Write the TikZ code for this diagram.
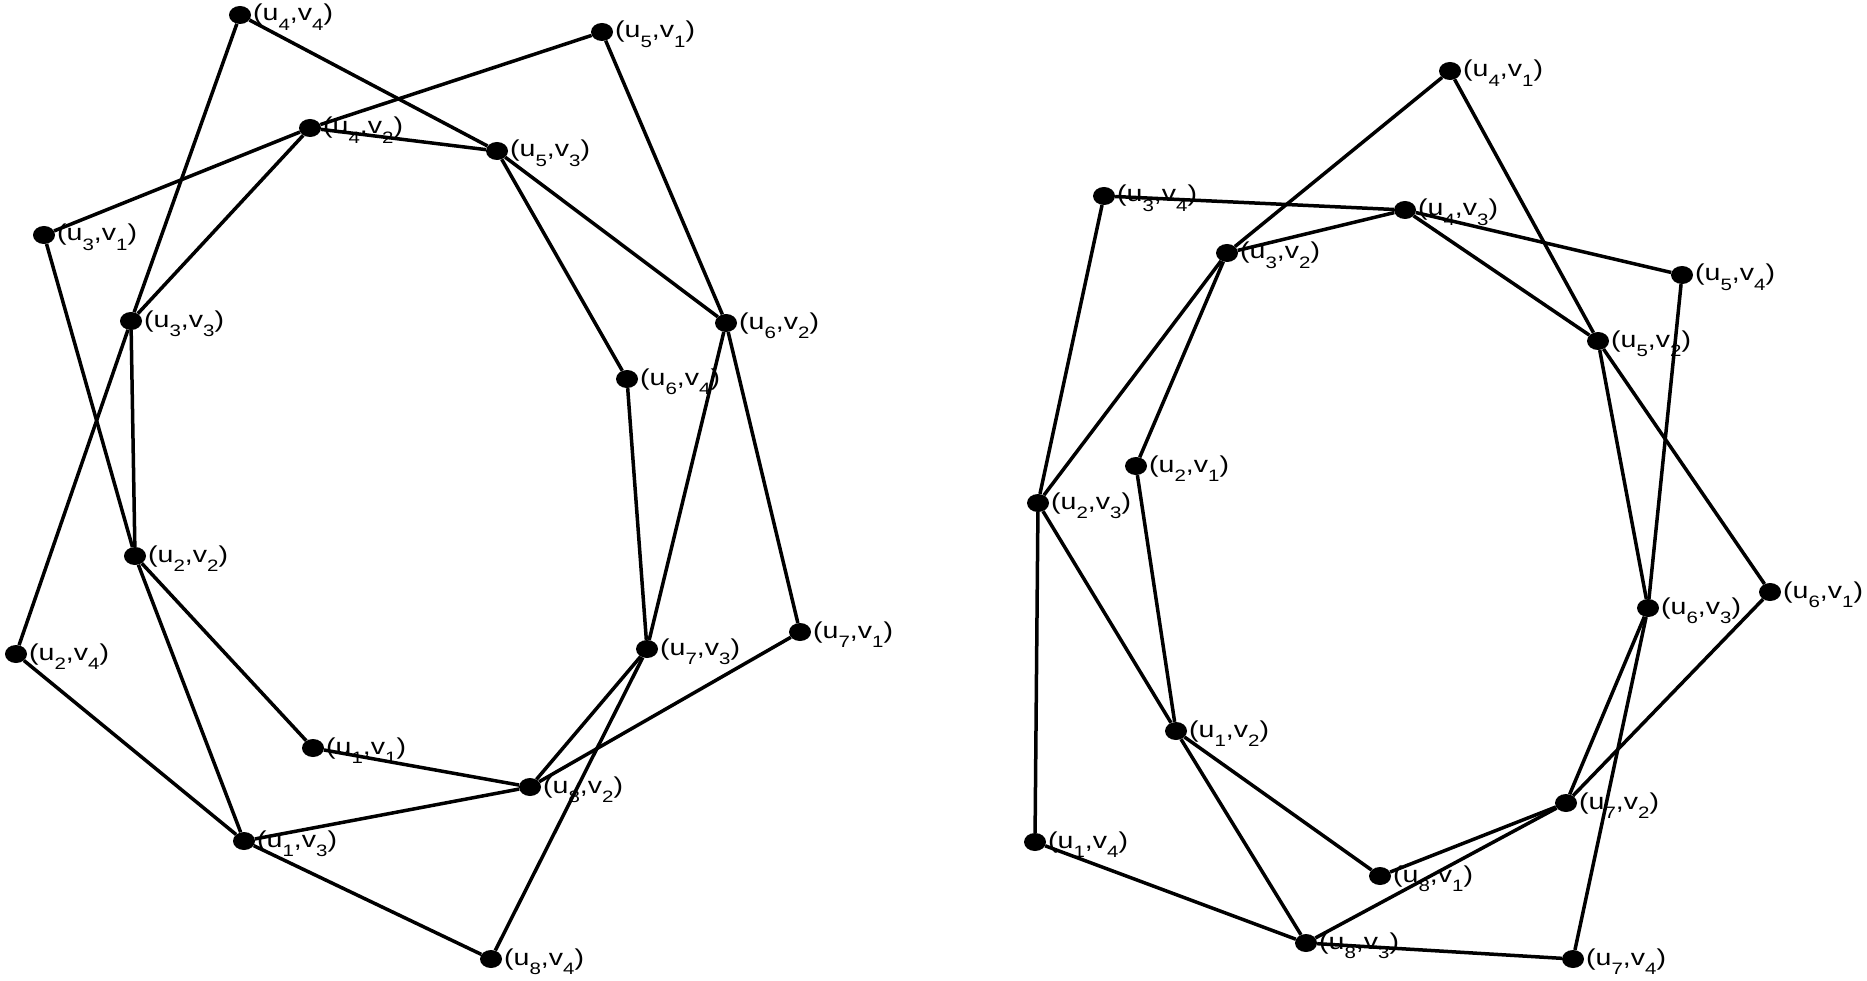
\documentclass[tikz,border=0pt]{standalone}
\usepackage{fontspec}
\setmainfont{Liberation Sans}
\usetikzlibrary{shapes.geometric}
\newcommand{\sbs}[1]{\raisebox{-0.4em}{\fontsize{16.5}{16.5}\selectfont #1}}
\newcommand{\vlab}[2]{\scalebox{1.24}[1]{(u\sbs{#1},v\sbs{#2})}}
\newcommand{\vtx}[5]{\node[dot] (#1) at (#2,#3) {}; \node[lbl] (#1t) at (#2+13,#3+6) {\vlab{#4}{#5}};}
\tikzset{
  dot/.style={ellipse, fill=black, draw=none, minimum width=22pt, minimum height=18pt, inner sep=0pt},
  lbl/.style={anchor=base west, inner sep=0pt, font=\fontsize{23}{23}\selectfont},
  edge/.style={line width=3.5pt, black},
}
\begin{document}
\begin{tikzpicture}[x=1pt,y=-1pt]
\useasboundingbox (0,0) rectangle (1867,981);
% left graph
\vtx{la44}{240}{15}{4}{4}
\vtx{la42}{310}{128}{4}{2}
\vtx{la31}{44}{235}{3}{1}
\vtx{la33}{131}{321}{3}{3}
\vtx{la51}{602}{32}{5}{1}
\vtx{la53}{497}{151}{5}{3}
\vtx{la62}{726}{323}{6}{2}
\vtx{la64}{627}{379}{6}{4}
\vtx{la22}{135}{556}{2}{2}
\vtx{la24}{16}{654}{2}{4}
\vtx{la11}{313}{748}{1}{1}
\vtx{la13}{244}{841}{1}{3}
\vtx{la73}{647}{649}{7}{3}
\vtx{la71}{800}{632}{7}{1}
\vtx{la82}{530}{787}{8}{2}
\vtx{la84}{491}{959}{8}{4}
\foreach \a/\b in {la44/la33,la44/la53,la33/la24,la33/la42,la33/la22,la42/la51,la42/la31,la42/la53,
  la51/la62,la53/la62,la53/la64,la31/la22,la62/la71,la62/la73,la64/la73,la22/la11,la22/la13,la24/la13,
  la71/la82,la73/la82,la73/la84,la11/la82,la13/la82,la13/la84}
  \draw[edge] (\a) -- (\b);
% right graph
\vtx{rb41}{1450}{71}{4}{1}
\vtx{rb34}{1104}{196}{3}{4}
\vtx{rb43}{1405}{210}{4}{3}
\vtx{rb32}{1227}{253}{3}{2}
\vtx{rb21}{1136}{466}{2}{1}
\vtx{rb54}{1682}{275}{5}{4}
\vtx{rb52}{1598}{341}{5}{2}
\vtx{rb23}{1038}{503}{2}{3}
\vtx{rb12}{1176}{731}{1}{2}
\vtx{rb14}{1035}{842}{1}{4}
\vtx{rb81}{1380}{876}{8}{1}
\vtx{rb83}{1306}{943}{8}{3}
\vtx{rb63}{1648}{608}{6}{3}
\vtx{rb61}{1770}{592}{6}{1}
\vtx{rb72}{1566}{803}{7}{2}
\vtx{rb74}{1573}{959}{7}{4}
\foreach \a/\b in {rb43/rb34,rb43/rb54,rb23/rb34,rb23/rb14,rb63/rb54,rb63/rb74,rb83/rb74,rb83/rb14,
  rb32/rb43,rb32/rb23,rb52/rb43,rb52/rb63,rb72/rb63,rb72/rb83,rb12/rb23,rb12/rb83,
  rb41/rb32,rb41/rb52,rb21/rb32,rb21/rb12,rb61/rb52,rb61/rb72,rb81/rb72,rb81/rb12}
  \draw[edge] (\a) -- (\b);
\end{tikzpicture}
\end{document}
